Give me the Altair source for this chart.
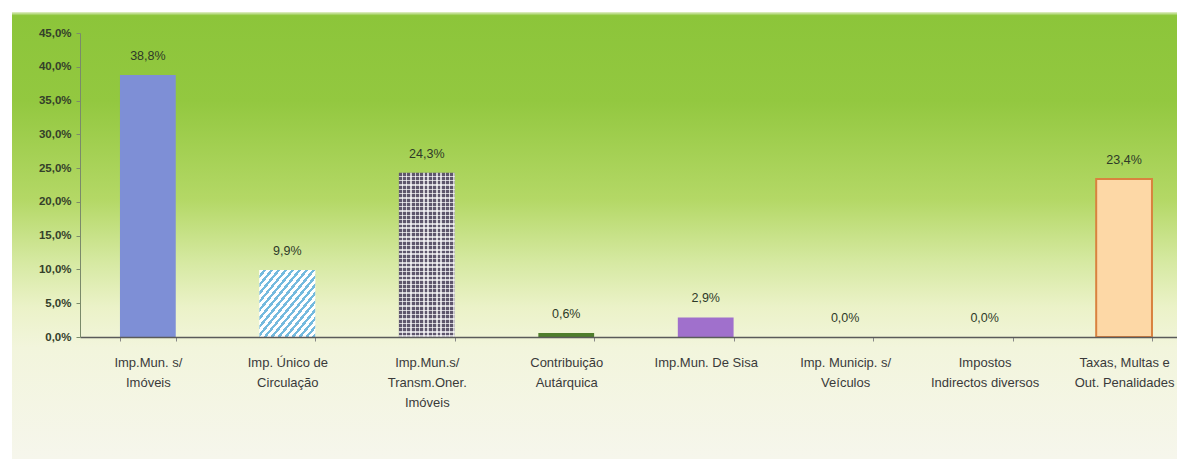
import altair as alt
import pandas as pd

categories = [
    "Imp.Mun. s/|Imóveis",
    "Imp. Único de|Circulação",
    "Imp.Mun.s/|Transm.Oner.|Imóveis",
    "Contribuição|Autárquica",
    "Imp.Mun. De Sisa",
    "Imp. Municip. s/|Veículos",
    "Impostos|Indirectos diversos",
    "Taxas, Multas e|Out. Penalidades",
]
values = [38.8, 9.9, 24.3, 0.6, 2.9, 0.0, 0.0, 23.4]
fills = ["#7e8fd6", "#ffffff", "#5e566c", "#4e7d2c", "#a070cc", "#cccccc", "#cccccc", "#fdd8a6"]
strokes = ["transparent"] * 7 + ["#d9823f"]
y_ticks = [0, 5, 10, 15, 20, 25, 30, 35, 40, 45]

df = pd.DataFrame({"cat": categories, "v": values, "fill": fills, "stroke": strokes,
                   "idx": list(range(len(categories)))})

W, H = 1097, 304

xenc = alt.X("cat:N", sort=None, title=None,
             scale=alt.Scale(paddingInner=0.6, paddingOuter=0.233, align=0.615),
             axis=alt.Axis(labelExpr="split(datum.label, '|')", labelAngle=0,
                           labelFont="Liberation Sans", labelFontSize=13,
                           labelColor="#3a3a3a", labelLineHeight=20,
                           labelPadding=15, tickSize=4, tickBand="extent",
                           tickColor="#888888", domainColor="#5a5a5a",
                           domainWidth=1.5, labelBaseline="top", zindex=1))
yenc = alt.Y("v:Q", title=None,
             scale=alt.Scale(domain=[0, 45], nice=False),
             axis=alt.Axis(values=y_ticks, grid=False,
                           labelExpr="replace(format(datum.value, '.1f'), '.', ',') + '%'",
                           labelFont="Liberation Sans", labelFontSize=11.5,
                           labelFontWeight="bold", labelColor="#34402a",
                           labelPadding=5, tickSize=4, tickColor="#7a8a6a",
                           domainColor="#7a8a6a", zindex=1))

bg = alt.Chart(pd.DataFrame({"a": [0]})).mark_rect(
    fill=alt.LinearGradient(
        gradient="linear", x1=0, y1=0, x2=0, y2=1,
        stops=[
            alt.GradientStop(offset=0.0, color="#e4f0cc"),
            alt.GradientStop(offset=0.008, color="#8cc53a"),
            alt.GradientStop(offset=0.2, color="#93c840"),
            alt.GradientStop(offset=0.42, color="#b4d866"),
            alt.GradientStop(offset=0.56, color="#d6e9a2"),
            alt.GradientStop(offset=0.66, color="#ebf2c8"),
            alt.GradientStop(offset=0.75, color="#f2f5dc"),
            alt.GradientStop(offset=1.0, color="#f6f6ec"),
        ]),
).encode(x=alt.value(-68), x2=alt.value(1110), y=alt.value(-21), y2=alt.value(426))

base = alt.Chart(df)

bars = base.mark_bar(strokeWidth=2).encode(
    x=xenc, y=yenc,
    fill=alt.Fill("fill:N", scale=None),
    stroke=alt.Stroke("stroke:N", scale=None),
)

# diagonal stripes for bar 2
n = 16
stripe_stops = []
for k in range(n):
    a = k / n
    b = (k + 0.55) / n
    c = (k + 1) / n
    stripe_stops += [
        alt.GradientStop(offset=a, color="#ffffff"),
        alt.GradientStop(offset=b, color="#ffffff"),
        alt.GradientStop(offset=b, color="#74bade"),
        alt.GradientStop(offset=c, color="#74bade"),
    ]
stripes = base.transform_filter("datum.idx == 1").mark_bar(
    fill=alt.LinearGradient(gradient="linear", x1=0, y1=0, x2=1, y2=1, stops=stripe_stops)
).encode(x=xenc, y=yenc)


def grid_stops(count):
    s = []
    for k in range(count):
        a = k / count
        b = (k + 0.65) / count
        c = (k + 1) / count
        s += [
            alt.GradientStop(offset=a, color="rgba(255,255,255,0)"),
            alt.GradientStop(offset=b, color="rgba(255,255,255,0)"),
            alt.GradientStop(offset=b, color="rgba(255,255,255,0.7)"),
            alt.GradientStop(offset=c, color="rgba(255,255,255,0.7)"),
        ]
    return s


grid_v = base.transform_filter("datum.idx == 2").mark_bar(
    fill=alt.LinearGradient(gradient="linear", x1=0, y1=0, x2=1, y2=0, stops=grid_stops(13))
).encode(x=xenc, y=yenc)
grid_h = base.transform_filter("datum.idx == 2").mark_bar(
    fill=alt.LinearGradient(gradient="linear", x1=0, y1=0, x2=0, y2=1, stops=grid_stops(38))
).encode(x=xenc, y=yenc)

labels = base.transform_calculate(
    lab="replace(format(datum.v, '.1f'), '.', ',') + '%'"
).mark_text(font="Liberation Sans", fontSize=12.5, color="#2e3a28",
            baseline="alphabetic", dy=-15).encode(
    x=xenc, y=yenc, text="lab:N")

chart = alt.layer(bg, bars, stripes, grid_v, grid_h, labels).properties(
    width=W, height=H,
    autosize=alt.AutoSizeParams(type="none"),
    padding={"left": 72, "top": 25, "right": 0, "bottom": 122},
    background="#ffffff",
).configure_view(stroke=None)

chart.save("out.html", embed_options={"renderer": "svg", "actions": False})
